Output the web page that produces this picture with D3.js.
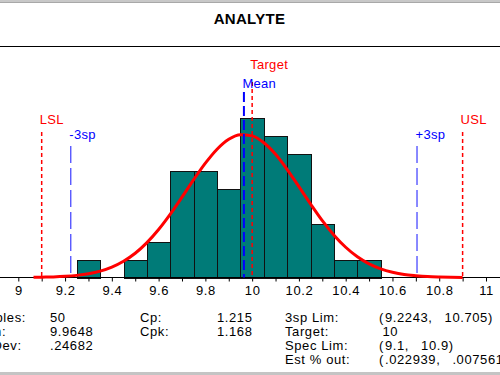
<!DOCTYPE html>
<html>
<head>
<meta charset="utf-8">
<script src="https://cdn.jsdelivr.net/npm/d3@7"></script>
<style>
  html, body { margin: 0; padding: 0; background: #fff; }
  svg { display: block; }
  text { font-family: "Liberation Sans", Arial, sans-serif; }
</style>
</head>
<body>
<svg id="chart" width="500" height="375"></svg>
<script>
// ---------------- data ----------------
const title = "ANALYTE";
const binCenters = [9.3, 9.4, 9.5, 9.6, 9.7, 9.8, 9.9, 10.0, 10.1, 10.2, 10.3, 10.4, 10.5];
const binCounts  = [1,   0,   1,   2,   6,   6,   5,   9,    8,    7,    3,    1,    1];
const binWidth = 0.1;

// fitted normal curve (in count units)
const curveX = [9.065, 9.1, 9.15, 9.2, 9.25, 9.3, 9.35, 9.4, 9.45, 9.5, 9.55, 9.6, 9.65, 9.7, 9.75, 9.8, 9.85, 9.9, 9.95,
                10.0, 10.05, 10.1, 10.15, 10.2, 10.25, 10.3, 10.35, 10.4, 10.45, 10.5, 10.55, 10.6, 10.65, 10.7, 10.75, 10.8, 10.85, 10.9];
const curveY = [0.01, 0.02, 0.035, 0.066, 0.12, 0.21, 0.36, 0.59, 0.92, 1.37, 1.97, 2.71, 3.58, 4.54, 5.53, 6.46, 7.25, 7.81, 8.07,
                8.0, 7.61, 6.96, 6.10, 5.13, 4.15, 3.21, 2.39, 1.71, 1.17, 0.77, 0.49, 0.30, 0.17, 0.10, 0.05, 0.026, 0.013, 0.006];

const xTickValues = [9, 9.1, 9.2, 9.3, 9.4, 9.5, 9.6, 9.7, 9.8, 9.9, 10, 10.1, 10.2, 10.3, 10.4, 10.5, 10.6, 10.7, 10.8, 10.9, 11];
const xTickLabels = ["9", "9.2", "9.4", "9.6", "9.8", "10", "10.2", "10.4", "10.6", "10.8", "11"];
const xLabelValues = [9, 9.2, 9.4, 9.6, 9.8, 10, 10.2, 10.4, 10.6, 10.8, 11];

const specNames  = ["LSL", "USL", "Target"];
const specValues = [9.1, 10.9, 10];
const sigmaNames  = ["-3sp", "+3sp", "Mean"];
const sigmaValues = [9.2243, 10.705, 9.9648];

const stat1Labels = ["Samples:", "Mean:", "Std Dev:"];
const stat1Values = ["50", "9.9648", ".24682"];
const stat2Labels = ["Cp:", "Cpk:"];
const stat2Values = ["1.215", "1.168"];
const stat3Labels = ["3sp Lim:", "Target:", "Spec Lim:", "Est % out:"];
const stat3Values = [["9.2243", "10.705"], ["10"], ["9.1", "10.9"], [".022939", ".0075613"]];

// ---------------- drawing ----------------
const svg = d3.select("#chart");
const W = 500, H = 375;
const FONT = 13, LS = 0.6;

const x = d3.scaleLinear().domain([9, 11]).range([18.3, 486]);
const y = d3.scaleLinear().domain([0, 13]).range([277.5, 47.4]);

// window-like borders
svg.append("rect").attr("x", 0).attr("y", 0).attr("width", W).attr("height", 3).attr("fill", "#c8c8c8");
svg.append("line").attr("x1", 0).attr("x2", W).attr("y1", 2.5).attr("y2", 2.5).attr("stroke", "#a8a8a8");
svg.append("rect").attr("x", 0).attr("y", 372).attr("width", W).attr("height", 3).attr("fill", "#c4c4c4");

// title + header rule
svg.append("text").attr("x", 249.5).attr("y", 24).attr("text-anchor", "middle")
  .attr("font-size", 15).attr("font-weight", "bold").attr("letter-spacing", 0.3).attr("fill", "#000").text(title);
svg.append("line").attr("x1", 0).attr("x2", W).attr("y1", 46.5).attr("y2", 46.5).attr("stroke", "#000");

// bars
const bins = binCenters.map((c, i) => ({ lo: c - binWidth / 2, hi: c + binWidth / 2, n: binCounts[i] }));
svg.append("g").selectAll("rect").data(bins.filter(d => d.n > 0)).join("rect")
  .attr("x", d => Math.round(x(d.lo)) + 0.5)
  .attr("width", d => Math.round(x(d.hi)) - Math.round(x(d.lo)))
  .attr("y", d => Math.round(y(d.n)) + 0.5)
  .attr("height", d => Math.round(y(0)) - Math.round(y(d.n)))
  .attr("fill", "#007b78").attr("stroke", "#111").attr("stroke-width", 1);

// axis
const axisY = 277.5;
svg.append("line").attr("x1", 0).attr("x2", W).attr("y1", axisY).attr("y2", axisY).attr("stroke", "#000");
const axis = d3.axisBottom(x).tickValues(xTickValues).tickSize(4).tickFormat(d => {
  const i = xLabelValues.findIndex(v => Math.abs(v - d) < 1e-9);
  return i >= 0 ? xTickLabels[i] : "";
});
const ag = svg.append("g").attr("transform", `translate(0,${axisY})`).call(axis);
ag.select(".domain").remove();
ag.selectAll(".tick line").attr("stroke", "#000");
ag.selectAll(".tick text").attr("font-size", FONT).attr("letter-spacing", LS)
  .attr("font-family", "Liberation Sans, Arial, sans-serif").attr("fill", "#000").attr("y", 6).attr("dy", "0.85em");

// spec lines (red short dash)
const specLabelY = { "LSL": 124, "USL": 124, "Target": 69 };
const specLineTop = { "LSL": 132, "USL": 132, "Target": 82 };
specNames.forEach((nm, i) => {
  const xv = x(specValues[i]);
  svg.append("line").attr("x1", xv).attr("x2", xv).attr("y1", specLineTop[nm]).attr("y2", axisY)
    .attr("stroke", "#ff0000").attr("stroke-width", 1.5).attr("stroke-dasharray", "4,3");
  svg.append("text").attr("x", xv - 2).attr("y", specLabelY[nm]).attr("font-size", FONT)
    .attr("letter-spacing", 0.3).attr("fill", "#ff0000").text(nm);
});

// normal curve
const line = d3.line().x(d => x(d[0])).y(d => y(d[1])).curve(d3.curveMonotoneX);
svg.append("path").datum(curveX.map((v, i) => [v, curveY[i]]))
  .attr("d", line).attr("fill", "none").attr("stroke", "#ff0000").attr("stroke-width", 3)
  .attr("stroke-linejoin", "round");

// sigma / mean lines (blue long dash)
const sigLabelY = { "-3sp": 139, "+3sp": 139, "Mean": 88 };
const sigLineTop = { "-3sp": 146, "+3sp": 146, "Mean": 92 };
sigmaNames.forEach((nm, i) => {
  const xv = x(sigmaValues[i]);
  const isMean = nm === "Mean";
  svg.append("line").attr("x1", xv).attr("x2", xv).attr("y1", sigLineTop[nm]).attr("y2", axisY)
    .attr("stroke", isMean ? "#0000ff" : "#4a4aff").attr("stroke-width", isMean ? 2 : 1.3)
    .attr("stroke-dasharray", isMean ? "10,4" : "17,5");
  svg.append("text").attr("x", xv - 1.5).attr("y", sigLabelY[nm]).attr("font-size", FONT)
    .attr("letter-spacing", 0.3).attr("fill", "#0000ff").text(nm);
});

// statistics block
const rowY = [321.5, 335.5, 349.5, 363.5];
const st = svg.append("g").attr("font-size", FONT).attr("letter-spacing", LS).attr("fill", "#000");
stat1Labels.forEach((t, i) => {
  st.append("text").attr("x", -33).attr("y", rowY[i]).text(t);
  st.append("text").attr("x", 50).attr("y", rowY[i]).text(stat1Values[i]);
});
stat2Labels.forEach((t, i) => {
  st.append("text").attr("x", 140).attr("y", rowY[i]).text(t);
  st.append("text").attr("x", 252.5).attr("y", rowY[i]).attr("text-anchor", "end").text(stat2Values[i]);
});
stat3Labels.forEach((t, i) => {
  st.append("text").attr("x", 285).attr("y", rowY[i]).text(t);
  const vals = stat3Values[i];
  if (vals.length === 1) {
    st.append("text").attr("x", 382.5).attr("y", rowY[i]).text(vals[0]);
  } else {
    st.append("text").attr("x", 379).attr("y", rowY[i]).text("(");
    const a = st.append("text").attr("x", 385).attr("y", rowY[i]).text(vals[0] + ",");
    const wA = a.node().getComputedTextLength();
    st.append("text").attr("x", 385 + wA + 12).attr("y", rowY[i]).text(vals[1] + ")");
  }
});
</script>
</body>
</html>
